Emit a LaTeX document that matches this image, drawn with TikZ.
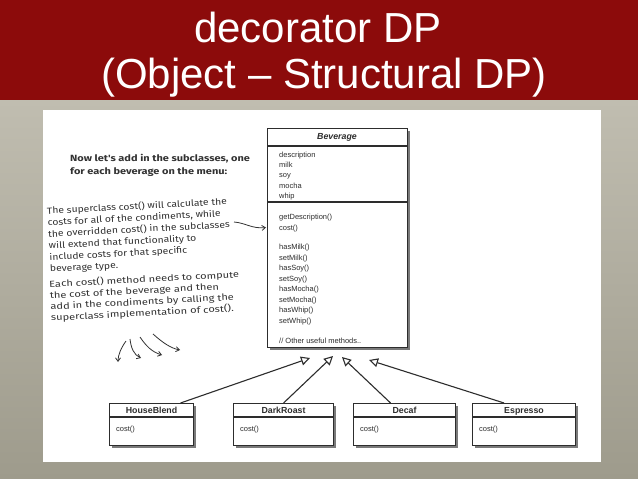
\documentclass[tikz,border=0pt]{standalone}
\usepackage{fontspec}
\setmainfont{Liberation Sans}
\newfontfamily\handfont[FakeStretch=1.15]{Fira Sans}
\newfontfamily\handfontw[FakeStretch=1.22]{Fira Sans}
\newfontfamily\handfontx[FakeStretch=1.26]{Fira Sans}
\usetikzlibrary{arrows.meta,shadows}
\definecolor{hdrred}{RGB}{140,11,11}
\definecolor{bgtop}{RGB}{192,189,176}
\definecolor{bgbot}{RGB}{158,155,140}
\definecolor{ink}{RGB}{45,45,45}
\definecolor{hand}{RGB}{50,50,50}
\tikzset{
  umlbox/.style={draw=ink, line width=1.1bp, fill=white, inner sep=0, anchor=north west,
    drop shadow={shadow xshift=2.5bp, shadow yshift=-2.5bp, fill=black!65, opacity=.8}},
  mtext/.style={anchor=base west, inner sep=0, text=ink, font=\fontsize{7.5bp}{9bp}\selectfont},
  stitle/.style={anchor=base, inner sep=0, text=ink, font=\bfseries\fontsize{8.8bp}{10bp}\selectfont},
  ttl/.style={anchor=base, inner sep=0, text=white, font=\fontsize{42bp}{46bp}\selectfont},
  handblk/.style={anchor=base west, inner sep=0, text=hand, align=left, rotate=3},
  handb/.style={anchor=base west, inner sep=0, text=hand, font=\handfontw\bfseries\fontsize{9bp}{10bp}\selectfont},
  inh/.style={draw=ink, line width=1.1bp, -{Triangle[open, length=9bp, width=9bp, fill=white]}},
  pen/.style={draw=hand, line width=0.8bp, -{Straight Barb[length=3.5bp, width=5bp]}},
  sep/.style={draw=ink, line width=1.1bp}
}
\begin{document}
\begin{tikzpicture}[x=1bp, y=-1bp]
\useasboundingbox (0,0) rectangle (638,479);
% background
\shade[top color=bgtop, bottom color=bgbot] (0,100) rectangle (638,479);
\fill[hdrred] (0,0) rectangle (638,100);
\fill[white] (43,110) rectangle (601,462);
% title
\node[ttl] (title1) at (318,43) {decorator DP};
\node[ttl] (title2) at (324,89) {(Object – Structural DP)};

% Beverage class
\node[umlbox, line width=1.3bp, minimum width=140bp, minimum height=219bp] (bev) at (267,128) {};
\draw[sep] ([yshift=-18bp]bev.north west) -- ([yshift=-18bp]bev.north east);
\draw[sep] ([yshift=-74bp]bev.north west) -- ([yshift=-74bp]bev.north east);
\node[stitle, font=\bfseries\itshape\fontsize{8.8bp}{10bp}\selectfont] (bevt) at (337,139.5) {Beverage};
\foreach \t [count=\i from 0] in {description,milk,soy,mocha,whip}
  \node[mtext] (attr\i) at (279,157.2+10.4*\i) {\t};
\node[mtext] (getd) at (279,220) {getDescription()};
\node[mtext] (cost) at (279,230.4) {cost()};
\foreach \t [count=\i from 0] in {hasMilk(),setMilk(),hasSoy(),setSoy(),hasMocha(),setMocha(),hasWhip(),setWhip()}
  \node[mtext] (meth\i) at (279,250+10.45*\i) {\t};
\node[mtext] (other) at (279,343.2) {// Other useful methods..};

% subclasses
\node[umlbox, minimum width=84bp, minimum height=42bp] (hb) at (109,403) {};
\node[umlbox, minimum width=100bp, minimum height=42bp] (dr) at (233,403) {};
\node[umlbox, minimum width=102bp, minimum height=42bp] (dc) at (353,403) {};
\node[umlbox, minimum width=103bp, minimum height=42bp] (es) at (472,403) {};
\foreach \n/\t in {hb/HouseBlend,dr/DarkRoast,dc/Decaf,es/Espresso}{
  \draw[sep] ([yshift=-14bp]\n.north west) -- ([yshift=-14bp]\n.north east);
  \node[stitle] (\n t) at ([yshift=-10.5bp]\n.north) {\t};
  \node[mtext] (\n c) at ([xshift=7bp,yshift=-28bp]\n.north west) {cost()};
}

% inheritance arrows
\coordinate (tip1) at (310,358);
\coordinate (tip2) at (333,356);
\coordinate (tip3) at (342,357);
\coordinate (tip4) at (369,360);
\draw[inh] ([xshift=29bp]hb.north) -- (tip1);
\draw[inh] (dr.north) -- (tip2);
\draw[inh] ([xshift=-14bp]dc.north) -- (tip3);
\draw[inh] ([xshift=-20bp]es.north) -- (tip4);

% handwritten notes
\node[handb] (intro1) at (70,162) {Now let's add in the subclasses, one};
\node[handb] (intro2) at (70,175) {for each beverage on the menu:};

\node[handblk, font=\handfont\fontsize{9bp}{11.6bp}\selectfont] (note1) at (50,272)
  {The superclass cost() will calculate the\\costs for all of the condiments, while\\the overridden cost() in the subclasses\\will extend that functionality to\\include costs for that specific\\beverage type.};

\node[handblk, font=\handfontx\fontsize{8.8bp}{11.2bp}\selectfont] (note2) at (51,321)
  {Each cost() method needs to compute\\the cost of the beverage and then\\add in the condiments by calling the\\superclass implementation of cost().};

% pointer to cost()
\coordinate (pstart) at (234,222);
\coordinate (pend) at (266,227.5);
\draw[pen] (pstart) .. controls (246,223) and (252,229) .. (pend);

% squiggle arrows
\coordinate (s1a) at (126,341); \coordinate (s1b) at (118,362);
\coordinate (s2a) at (130,339); \coordinate (s2b) at (141,358);
\coordinate (s3a) at (140,337); \coordinate (s3b) at (162,355);
\coordinate (s4a) at (153,334); \coordinate (s4b) at (180,350);
\draw[pen] (s1a) .. controls (121,348) and (118,355) .. (s1b);
\draw[pen] (s2a) .. controls (131,348) and (134,355) .. (s2b);
\draw[pen] (s3a) .. controls (146,346) and (152,352) .. (s3b);
\draw[pen] (s4a) .. controls (162,342) and (170,348) .. (s4b);
\end{tikzpicture}
\end{document}
